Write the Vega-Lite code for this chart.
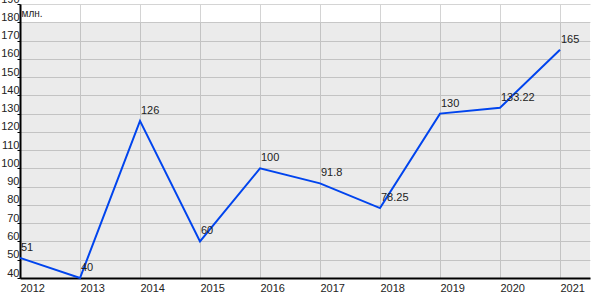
{
  "$schema": "https://vega.github.io/schema/vega-lite/v6.json",
  "width": 570,
  "height": 274,
  "autosize": "none",
  "padding": {"left": 20, "top": 4, "right": 10, "bottom": 22},
  "background": "white",
  "config": {
    "view": {"stroke": null},
    "font": "Liberation Sans",
    "axisX": {
      "title": null,
      "format": "d",
      "grid": true,
      "gridColor": "#d4d4d4",
      "gridOpacity": 1,
      "gridWidth": 1,
      "ticks": false,
      "domainColor": "#000000",
      "domainWidth": 2,
      "labelAlign": "left",
      "labelPadding": 4,
      "labelFontSize": 11,
      "labelColor": "#222222",
      "labelFlush": false,
      "labelOverlap": false
    },
    "axisY": {
      "titleAngle": 0,
      "titleAlign": "left",
      "titleBaseline": "alphabetic",
      "titleX": 1,
      "titleY": 12,
      "titleFontSize": 10,
      "titleFontWeight": "normal",
      "titleColor": "#222222",
      "grid": true,
      "gridColor": "#d4d4d4",
      "gridOpacity": 1,
      "gridWidth": 1,
      "tickSize": 3,
      "tickColor": "#000000",
      "domainColor": "#000000",
      "domainWidth": 2,
      "labelBaseline": "bottom",
      "labelPadding": -2,
      "labelFontSize": 11,
      "labelColor": "#222222",
      "labelFlush": false,
      "labelOverlap": false
    }
  },
  "data": {
    "values": [
      {"year": 2012, "value": 51, "label": "51"},
      {"year": 2013, "value": 40, "label": "40"},
      {"year": 2014, "value": 126, "label": "126"},
      {"year": 2015, "value": 60, "label": "60"},
      {"year": 2016, "value": 100, "label": "100"},
      {"year": 2017, "value": 91.8, "label": "91.8"},
      {"year": 2018, "value": 78.25, "label": "78.25"},
      {"year": 2019, "value": 130, "label": "130"},
      {"year": 2020, "value": 133.22, "label": "133.22"},
      {"year": 2021, "value": 165, "label": "165"}
    ]
  },
  "layer": [
    {
      "data": {"values": [{}]},
      "mark": {"type": "rect", "color": "#000000", "opacity": 0.078},
      "encoding": {
        "x": {"datum": 2012, "type": "quantitative", "scale": {"domain": [2012, 2021.5], "nice": false, "zero": false},
              "axis": {"title": null, "tickCount": 20, "values": [2012, 2013, 2014, 2015, 2016, 2017, 2018, 2019, 2020, 2021]}},
        "x2": {"datum": 2021.5},
        "y": {"datum": 180, "type": "quantitative", "scale": {"domain": [40, 190], "nice": false, "zero": false},
              "axis": {"title": "млн.", "tickCount": 20, "values": [40, 50, 60, 70, 80, 90, 100, 110, 120, 130, 140, 150, 160, 170, 180, 190]}},
        "y2": {"datum": 40}
      }
    },
    {
      "mark": {"type": "line", "color": "#0044ee", "strokeWidth": 2},
      "encoding": {
        "x": {"field": "year", "type": "quantitative",
              "axis": {"title": null, "tickCount": 20, "values": [2012, 2013, 2014, 2015, 2016, 2017, 2018, 2019, 2020, 2021]}},
        "y": {"field": "value", "type": "quantitative",
              "axis": {"title": "млн.", "tickCount": 20, "values": [40, 50, 60, 70, 80, 90, 100, 110, 120, 130, 140, 150, 160, 170, 180, 190]}}
      }
    },
    {
      "mark": {"type": "text", "align": "left", "baseline": "alphabetic", "dx": 1, "dy": -7, "fontSize": 11, "color": "#222222"},
      "encoding": {
        "x": {"field": "year", "type": "quantitative",
              "axis": {"title": null, "tickCount": 20, "values": [2012, 2013, 2014, 2015, 2016, 2017, 2018, 2019, 2020, 2021]}},
        "y": {"field": "value", "type": "quantitative",
              "axis": {"title": "млн.", "tickCount": 20, "values": [40, 50, 60, 70, 80, 90, 100, 110, 120, 130, 140, 150, 160, 170, 180, 190]}},
        "text": {"field": "label"}
      }
    }
  ]
}
